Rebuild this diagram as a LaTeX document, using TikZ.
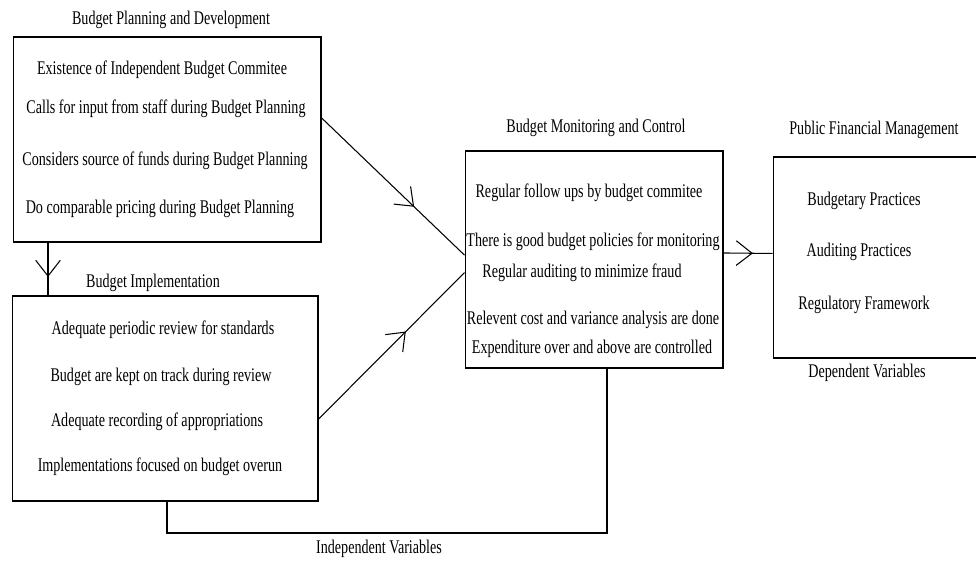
\documentclass[tikz,border=0pt]{standalone}
\usepackage{fontspec}
\setmainfont[FakeStretch=0.73]{Liberation Serif}
\usetikzlibrary{arrows.meta,calc,decorations.markings}

\begin{document}
\fontsize{11pt}{13pt}\selectfont
\begin{tikzpicture}[x=0.02cm, y=-0.02cm, line width=0.6pt,
    box/.style={draw, rectangle, inner sep=0pt},
    lbl/.style={inner sep=0pt},
    midarrow/.style={postaction={decorate}, decoration={markings,
      mark=at position #1 with {\arrow{Straight Barb[length=9pt,width=14pt]}}}}]
  \useasboundingbox (0, 0) rectangle (976, 561);
  \clip (0, 0) rectangle (976, 561);

  % boxes
  \node[box, minimum width=6.16cm, minimum height=4.10cm] (plan) at (167, 139.5) {};
  \node[box, minimum width=6.12cm, minimum height=4.10cm] (impl) at (165, 398.5) {};
  \node[box, minimum width=5.16cm, minimum height=4.34cm] (moni) at (594, 259.5) {};
  \node[box, minimum width=4.40cm, minimum height=4.02cm] (pfm) at (883, 257.5) {};

  % titles
  \node[lbl] (planT) at (171, 20) {Budget Planning and Development};
  \node[lbl] (implT) at (153, 283) {Budget Implementation};
  \node[lbl] (moniT) at (596, 128) {Budget Monitoring and Control};
  \node[lbl] (pfmT) at (874, 130) {Public Financial Management};
  \node[lbl] (dep) at (867, 373) {Dependent Variables};
  \node[lbl] (indep) at (379, 549) {Independent Variables};

  % planning
  \node[lbl] (p1) at (162, 70) {Existence of Independent Budget Commitee};
  \node[lbl] (p2) at (166, 109) {Calls for input from staff during Budget Planning};
  \node[lbl] (p3) at (165, 161) {Considers source of funds during Budget Planning};
  \node[lbl] (p4) at (160, 209) {Do comparable pricing during Budget Planning};

  % implementation
  \node[lbl] (i1) at (163, 330) {Adequate periodic review for standards};
  \node[lbl] (i2) at (161, 377) {Budget are kept on track during review};
  \node[lbl] (i3) at (157, 422) {Adequate recording of appropriations};
  \node[lbl] (i4) at (160, 467) {Implementations focused on budget overun};

  % monitoring
  \node[lbl] (m1) at (589, 193) {Regular follow ups by budget commitee};
  \node[lbl] (m2) at (593, 242) {There is good budget policies for monitoring};
  \node[lbl] (m3) at (582, 273) {Regular auditing to minimize fraud};
  \node[lbl] (m4) at (593, 320) {Relevent cost and variance analysis are done};
  \node[lbl] (m5) at (592, 349) {Expenditure over and above are controlled};

  % public financial management
  \node[lbl] (f1) at (864, 201) {Budgetary Practices};
  \node[lbl] (f2) at (859, 252) {Auditing Practices};
  \node[lbl] (f3) at (864, 305) {Regulatory Framework};

  % connectors
  \draw[midarrow=0.65] ($(plan.north east)!0.395!(plan.south east)$)
    -- ($(moni.north west)!0.48!(moni.south west)$);
  \draw[midarrow=0.6] ($(impl.north east)!0.6!(impl.south east)$)
    -- ($(moni.north west)!0.56!(moni.south west)$);
  \draw[midarrow=0.65] (plan.south west -| 48, 0) -- (impl.north west -| 48, 0);
  \draw[midarrow=0.6] ($(moni.north east)!0.47!(moni.south east)$)
    -- ($(pfm.north west)!0.48!(pfm.south west)$);
  \draw (impl.south west -| 167, 0) |- (607, 533) -- (moni.south west -| 607, 0);
\end{tikzpicture}
\end{document}
